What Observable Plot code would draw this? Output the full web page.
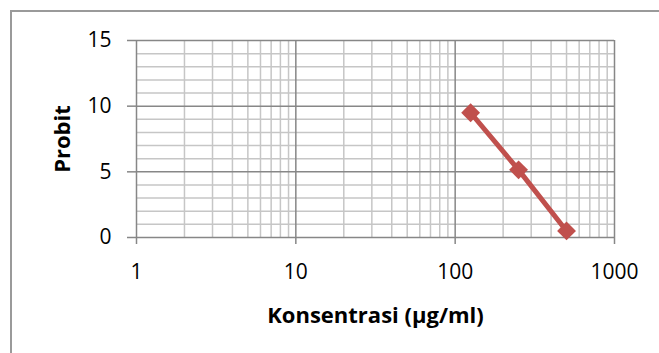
<!DOCTYPE html>
<html><head><meta charset="utf-8">
<script src="https://cdn.jsdelivr.net/npm/d3@7"></script>
<script src="https://cdn.jsdelivr.net/npm/@observablehq/plot@0.6"></script>
<style>
body{margin:0;background:#fff;}
#wrap{position:relative;width:659px;height:353px;overflow:hidden;background:#fff;}
#frame{position:absolute;left:10px;top:10px;width:700px;height:400px;border:2px solid #9a9a9a;box-sizing:border-box;pointer-events:none;}
#chart{position:absolute;left:0;top:0;}
</style></head><body><div id="wrap"><div id="chart"></div><div id="frame"></div></div>
<script>
const concentrations = [125, 250, 500];
const probits = [9.5, 5.15, 0.5];
const xTicks = [1, 10, 100, 1000];
const xMinor = [2, 3, 4, 5, 6, 7, 8, 9, 20, 30, 40, 50, 60, 70, 80, 90, 200, 300, 400, 500, 600, 700, 800, 900];
const yTicks = [0, 5, 10, 15];
const yMinor = [1, 2, 3, 4, 6, 7, 8, 9, 11, 12, 13, 14];
const xTitle = ["Konsentrasi (µg/ml)"];
const yTitle = ["Probit"];

const data = concentrations.map((c, i) => ({c, p: probits[i]}));
const major = "#878787", minor = "#c6c6c6", red = "#c0504d";

const chart = Plot.plot({
  width: 659, height: 353,
  marginLeft: 136, marginRight: 45, marginTop: 40, marginBottom: 116,
  style: {fontFamily: "'Open Sans', sans-serif", fontSize: "21px", color: "#000", background: "transparent"},
  x: {type: "log", domain: [1, 1000]},
  y: {domain: [0, 15]},
  marks: [
    Plot.ruleY(yMinor, {stroke: minor, strokeWidth: 1.5}),
    Plot.ruleX(xMinor, {y1: 0, y2: 15, stroke: minor, strokeWidth: 1.5}),
    Plot.ruleY(yTicks, {stroke: major, strokeWidth: 1.5}),
    Plot.ruleX(xTicks, {y1: 0, y2: 15, stroke: major, strokeWidth: 1.5}),
    Plot.axisX(xTicks, {tickSize: 7, tickPadding: 20, stroke: major, strokeWidth: 1.5, fill: "#000", fontSize: 21, tickFormat: d => String(d), label: null}),
    Plot.axisY(yTicks, {tickSize: 9, tickPadding: 16, stroke: major, strokeWidth: 1.5, fill: "#000", fontSize: 21, tickFormat: d => String(d), label: null}),
    Plot.line(data, {x: "c", y: "p", stroke: red, strokeWidth: 5, strokeLinejoin: "round"}),
    Plot.dot(data, {x: "c", y: "p", symbol: "diamond2", r: 8.5, fill: red, stroke: null}),
    Plot.text(yTitle, {frameAnchor: "left", textAnchor: "middle", lineAnchor: "middle", rotate: -90, dx: -74, fontWeight: "bold", fontSize: 22, fill: "#000"}),
    Plot.text(xTitle, {frameAnchor: "bottom", textAnchor: "middle", lineAnchor: "middle", dy: 78, fontWeight: "bold", fontSize: 22, fill: "#000"})
  ]
});
document.getElementById("chart").appendChild(chart);
</script>
</body></html>
